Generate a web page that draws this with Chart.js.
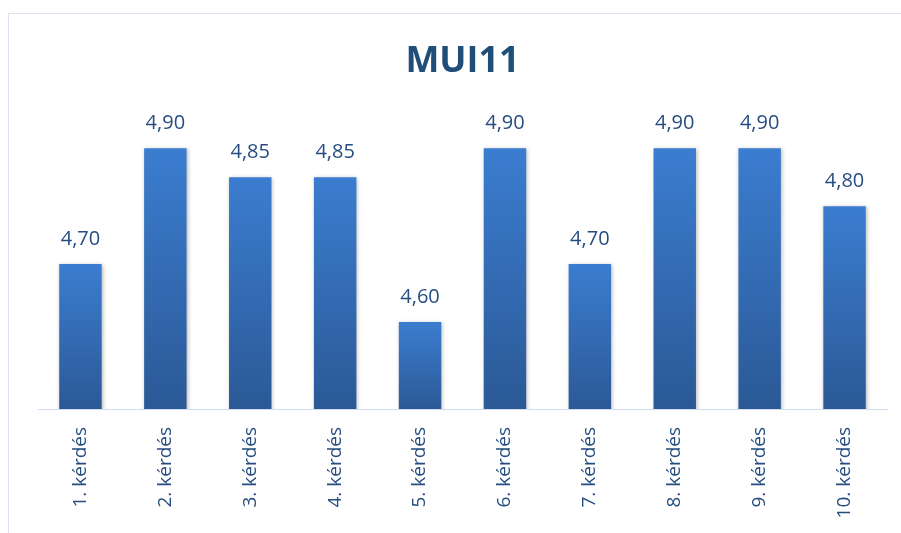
<!DOCTYPE html>
<html>
<head>
<meta charset="utf-8">
<script src="https://cdn.jsdelivr.net/npm/chart.js@4"></script>
<style>
  html, body { margin: 0; padding: 0; background: #ffffff; }
  #wrap { width: 901px; height: 533px; }
</style>
</head>
<body>
<div id="wrap"><canvas id="grafico" width="901" height="533"></canvas></div>
<script>
// Kérdések és átlagos pontszámok
const kerdesek = ['1. kérdés', '2. kérdés', '3. kérdés', '4. kérdés', '5. kérdés',
                  '6. kérdés', '7. kérdés', '8. kérdés', '9. kérdés', '10. kérdés'];
const atlagok = [4.70, 4.90, 4.85, 4.85, 4.60, 4.90, 4.70, 4.90, 4.90, 4.80];
const cim = 'MUI11';

const SZIN_SZOVEG = '#264D80';
const SZIN_CIM = '#1F4E79';

// Színátmenet oszloponként: felül világosabb, alul sötétebb kék
function oszlopSzin(context) {
    const chart = context.chart;
    const area = chart.chartArea;
    if (!area || context.dataIndex === undefined) return '#3370BA';
    const y = chart.scales.y.getPixelForValue(atlagok[context.dataIndex]);
    const g = chart.ctx.createLinearGradient(0, y, 0, area.bottom);
    g.addColorStop(0, '#3B7DD0');
    g.addColorStop(1, '#2B5996');
    return g;
}

// Keret a diagram körül
const keretPlugin = {
    id: 'keret',
    beforeDraw(chart) {
        const ctx = chart.ctx;
        ctx.save();
        ctx.strokeStyle = '#D9E3F2';
        ctx.lineWidth = 1;
        ctx.strokeRect(8.5, 13.5, 1000, 1000);
        ctx.restore();
    }
};

// Halvány árnyék az oszlopok mögött
const arnyekPlugin = {
    id: 'arnyek',
    beforeDatasetsDraw(chart) {
        const ctx = chart.ctx;
        ctx.save();
        ctx.shadowColor = 'rgba(0,0,0,0.28)';
        ctx.shadowBlur = 4;
        ctx.shadowOffsetX = 1;
        ctx.shadowOffsetY = 1;
    },
    afterDatasetsDraw(chart) {
        chart.ctx.restore();
    }
};

// Értékcímkék az oszlopok fölött, vesszős tizedesjellel
const ertekPlugin = {
    id: 'ertekek',
    afterDatasetsDraw(chart) {
        const ctx = chart.ctx;
        const meta = chart.getDatasetMeta(0);
        ctx.save();
        ctx.font = '20px "Open Sans"';
        ctx.fillStyle = SZIN_SZOVEG;
        ctx.textAlign = 'center';
        ctx.textBaseline = 'alphabetic';
        meta.data.forEach((bar, i) => {
            const szoveg = atlagok[i].toFixed(2).replace('.', ',');
            ctx.fillText(szoveg, bar.x, bar.y - 19);
        });
        ctx.restore();
    }
};

new Chart(document.getElementById('grafico'), {
    type: 'bar',
    data: {
        labels: kerdesek,
        datasets: [{
            data: atlagok,
            backgroundColor: oszlopSzin,
            borderWidth: 0,
            barPercentage: 0.5,
            categoryPercentage: 1.0
        }]
    },
    options: {
        responsive: false,
        animation: false,
        layout: {
            padding: { left: 38, right: 14, top: 0, bottom: 0 }
        },
        plugins: {
            legend: { display: false },
            tooltip: { enabled: false },
            title: {
                display: true,
                text: cim,
                color: SZIN_CIM,
                font: { family: 'Open Sans', size: 36, weight: 'bold' },
                padding: { top: 40, bottom: 7 }
            }
        },
        scales: {
            x: {
                grid: { display: false },
                border: { display: true, color: '#D0DCEF', width: 1 },
                ticks: {
                    color: SZIN_SZOVEG,
                    font: { family: 'Open Sans', size: 19 },
                    minRotation: 90,
                    maxRotation: 90,
                    padding: 10,
                    autoSkip: false
                },
                afterFit(scale) {
                    scale.height = 124;
                }
            },
            y: {
                display: false,
                min: 4.45,
                max: 5.0
            }
        }
    },
    plugins: [keretPlugin, arnyekPlugin, ertekPlugin]
});
</script>
</body>
</html>
